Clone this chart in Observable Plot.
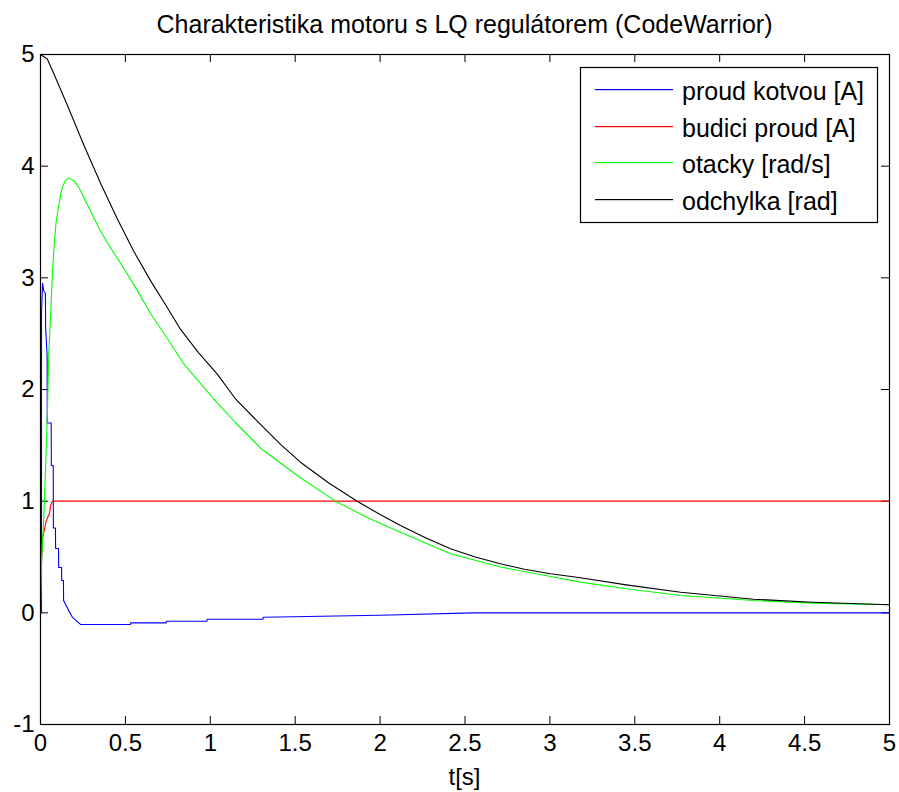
<!DOCTYPE html>
<html>
<head>
<meta charset="utf-8">
<script src="https://cdn.jsdelivr.net/npm/d3@7"></script>
<script src="https://cdn.jsdelivr.net/npm/@observablehq/plot@0.6"></script>
<style>
  html, body { margin: 0; padding: 0; background: #fff; }
  #chart svg { display: block; }
</style>
</head>
<body>
<div id="chart"></div>
<script>
// ---- data ----
const titleText = "Charakteristika motoru s LQ regulátorem (CodeWarrior)";
const xLabel = "t[s]";
const seriesNames = ["proud kotvou [A]", "budici proud [A]", "otacky [rad/s]", "odchylka [rad]"];
const seriesColors = ["#0000ff", "#ff0000", "#00ff00", "#000000"];
const xTicks = [0, 0.5, 1, 1.5, 2, 2.5, 3, 3.5, 4, 4.5, 5];
const yTicks = [-1, 0, 1, 2, 3, 4, 5];

// proud kotvou [A]
const armT = [0, 0.006, 0.006, 0.012, 0.02, 0.029, 0.03, 0.039, 0.04, 0.063, 0.064, 0.075, 0.076, 0.088, 0.089, 0.106, 0.107, 0.124, 0.125, 0.135, 0.136, 0.159, 0.188, 0.236, 0.53, 0.531, 0.74, 0.741, 0.98, 0.981, 1.31, 1.311, 2.0, 2.55, 5];
const armV = [0, 0, 2.69, 2.95, 2.88, 2.86, 2.57, 2.3, 1.7, 1.7, 1.32, 1.32, 0.76, 0.76, 0.576, 0.576, 0.406, 0.406, 0.29, 0.29, 0.11, 0.04, -0.04, -0.104, -0.104, -0.09, -0.09, -0.075, -0.075, -0.057, -0.057, -0.04, -0.022, 0, 0];
// budici proud [A]
const fieldT = [0, 0.006, 0.012, 0.035, 0.053, 0.059, 0.07, 5];
const fieldV = [0.16, 0.45, 0.67, 0.83, 0.89, 0.96, 1.0, 1.0];
// otacky [rad/s]
const speedT = [0, 0.006, 0.018, 0.029, 0.041, 0.049, 0.062, 0.071, 0.082, 0.092, 0.108, 0.118, 0.128, 0.147, 0.167, 0.196, 0.226, 0.255, 0.294, 0.353, 0.412, 0.489, 0.569, 0.648, 0.75, 0.844, 1.019, 1.15, 1.3, 1.531, 1.737, 1.93, 2.12, 2.415, 2.709, 3.004, 3.18, 3.45, 3.77, 4.2, 4.55, 5];
const speedV = [0, 0.45, 0.81, 1.25, 1.81, 2.33, 2.75, 3.07, 3.32, 3.5, 3.65, 3.74, 3.81, 3.87, 3.895, 3.87, 3.81, 3.72, 3.6, 3.42, 3.27, 3.09, 2.89, 2.68, 2.45, 2.23, 1.917, 1.7, 1.47, 1.21, 1.0, 0.85, 0.722, 0.529, 0.41, 0.325, 0.275, 0.215, 0.155, 0.11, 0.087, 0.072];
// odchylka [rad]
const devT = [0, 0.04, 0.078, 0.157, 0.255, 0.353, 0.452, 0.55, 0.648, 0.74, 0.824, 0.93, 1.04, 1.148, 1.3, 1.42, 1.531, 1.7, 1.865, 2.0, 2.12, 2.27, 2.415, 2.56, 2.709, 2.85, 3.004, 3.18, 3.45, 3.77, 4.2, 4.55, 5];
const devV = [5.0, 4.96, 4.83, 4.55, 4.19, 3.85, 3.53, 3.235, 2.975, 2.75, 2.54, 2.33, 2.14, 1.917, 1.68, 1.5, 1.349, 1.16, 1.0, 0.88, 0.782, 0.67, 0.573, 0.5, 0.439, 0.39, 0.35, 0.314, 0.25, 0.185, 0.122, 0.095, 0.072];

const seriesT = [armT, fieldT, speedT, devT];
const seriesV = [armV, fieldV, speedV, devV];
const rows = [];
seriesNames.forEach((name, i) => {
  seriesT[i].forEach((t, j) => rows.push({series: name, t, v: seriesV[i][j]}));
});

// ---- layout ----
const W = 899, H = 792;
const mL = 40, mR = 10, mT = 54, mB = 68;
const innerW = W - mL - mR, innerH = H - mT - mB;
const tickLen = 8;
const FONT = "'Liberation Sans', Arial, Helvetica, sans-serif";

const plot = Plot.plot({
  width: W,
  height: H,
  marginLeft: mL,
  marginRight: mR,
  marginTop: mT,
  marginBottom: mB,
  style: {fontFamily: FONT, background: "#fff", color: "#000"},
  x: {domain: [0, 5]},
  y: {domain: [-1, 5]},
  color: {domain: seriesNames, range: seriesColors},
  marks: [
    Plot.axisX(xTicks, {anchor: "bottom", tickSize: 0, tickPadding: 9, fontSize: 24, tickFormat: d => String(d), label: null}),
    Plot.axisY(yTicks, {anchor: "left", tickSize: 0, tickPadding: 6, fontSize: 24, tickFormat: d => String(d), label: null}),
    // inward ticks on all four sides (MATLAB box style)
    Plot.tickX(xTicks, {x: d => d, stroke: "#000", insetTop: innerH - tickLen}),
    Plot.tickX(xTicks, {x: d => d, stroke: "#000", insetBottom: innerH - tickLen}),
    Plot.tickY(yTicks, {y: d => d, stroke: "#000", insetRight: innerW - tickLen}),
    Plot.tickY(yTicks, {y: d => d, stroke: "#000", insetLeft: innerW - tickLen}),
    Plot.line(rows, {x: "t", y: "v", z: "series", stroke: "series", strokeWidth: 1.1}),
    Plot.frame({stroke: "#000", strokeWidth: 1.2})
  ]
});

document.getElementById("chart").appendChild(plot);

// ---- title, x label, legend (added to the same SVG) ----
const svg = d3.select(plot);
svg.append("text")
  .attr("x", mL + innerW / 2).attr("y", 33)
  .attr("text-anchor", "middle")
  .style("font-family", FONT).style("font-size", "25px").attr("fill", "#000")
  .text(titleText);
svg.append("text")
  .attr("x", mL + innerW / 2).attr("y", 785)
  .attr("text-anchor", "middle")
  .style("font-family", FONT).style("font-size", "24px").attr("fill", "#000")
  .text(xLabel);

const lgX = W - mR - 309, lgY = mT + 13, lgW = 297, lgH = 155;
const lg = svg.append("g");
lg.append("rect")
  .attr("x", lgX + 0.5).attr("y", lgY + 0.5).attr("width", lgW).attr("height", lgH)
  .attr("fill", "#fff").attr("stroke", "#000").attr("stroke-width", 1.2);
seriesNames.forEach((name, i) => {
  const cy = Math.round(lgY + 22 + i * 36.6);
  lg.append("rect")
    .attr("x", lgX + 15).attr("y", cy).attr("width", 78).attr("height", 1.2)
    .style("fill", seriesColors[i]).style("stroke", "none");
  lg.append("text")
    .attr("x", lgX + 102).attr("y", cy + 11)
    .attr("text-anchor", "start")
    .style("font-family", FONT).style("font-size", "25px").style("fill", "#000")
    .text(name);
});
</script>
</body>
</html>
